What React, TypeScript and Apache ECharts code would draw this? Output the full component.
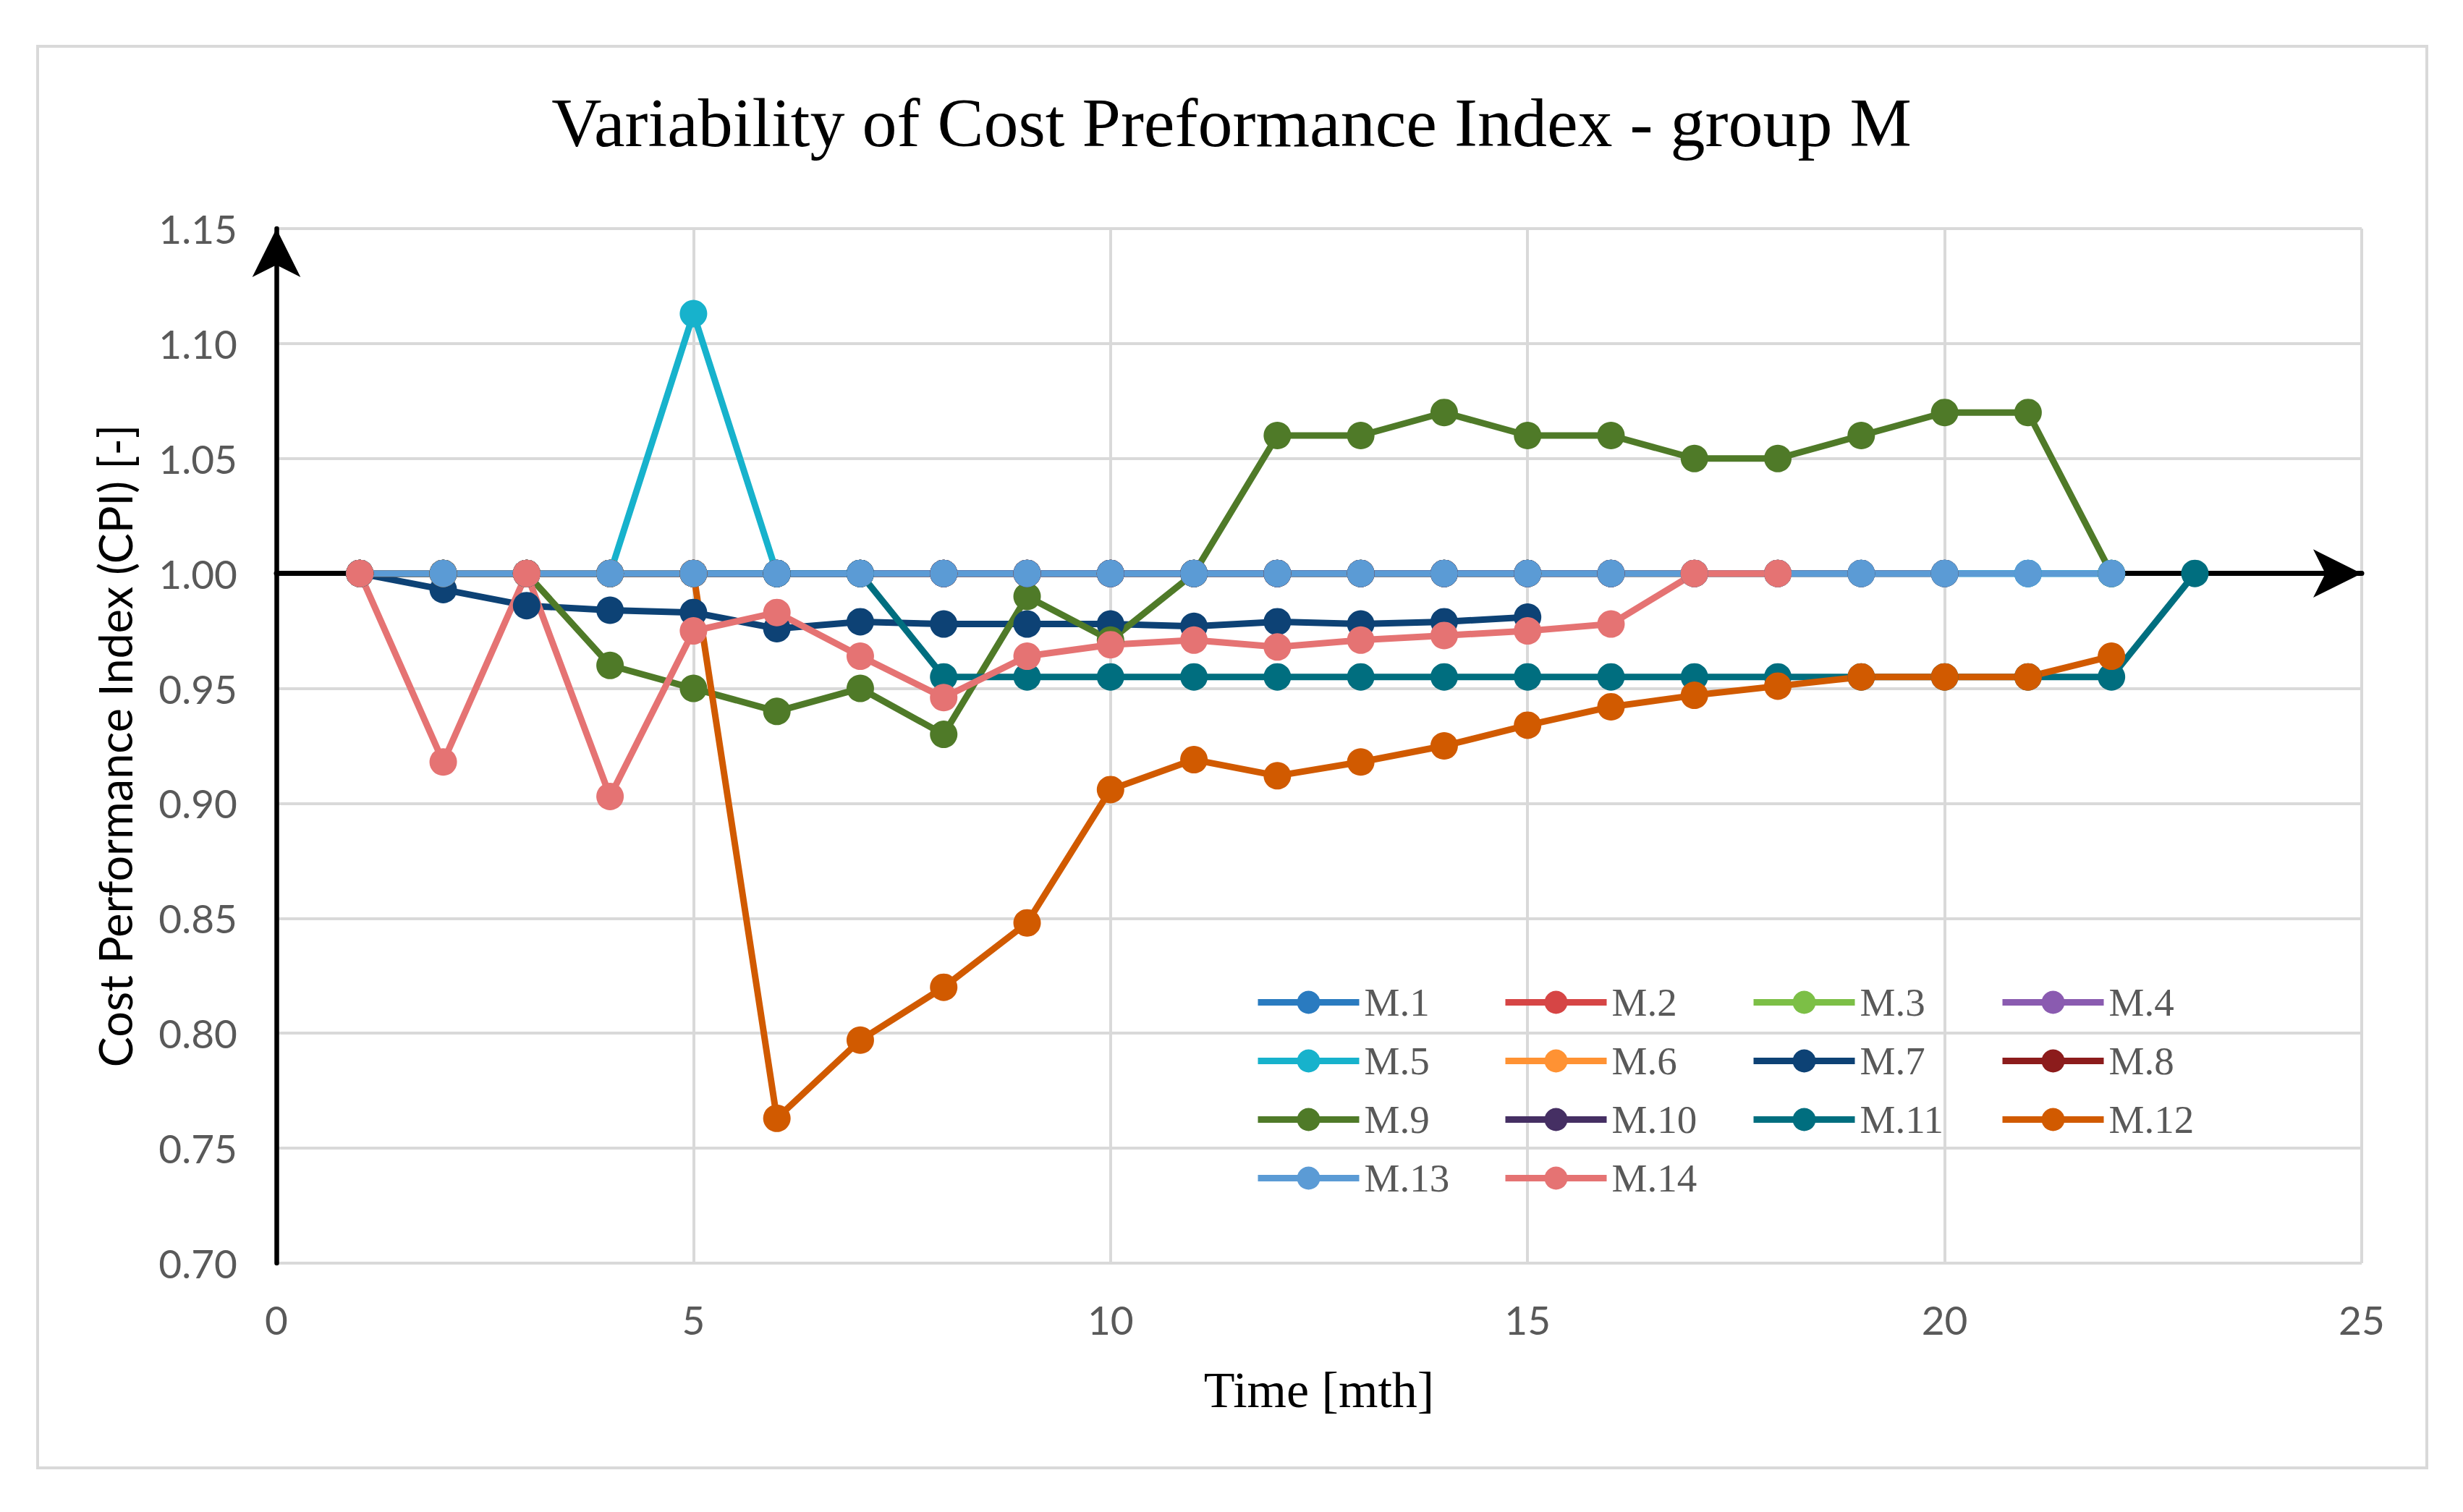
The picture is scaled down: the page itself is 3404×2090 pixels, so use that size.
import React, { useEffect, useRef } from "react";
import * as echarts from "echarts";

// ---- data ----
const months = [1, 2, 3, 4, 5, 6, 7, 8, 9, 10, 11, 12, 13, 14, 15, 16, 17, 18, 19, 20, 21, 22, 23];

const seriesNames = ["M.1", "M.2", "M.3", "M.4", "M.5", "M.6", "M.7", "M.8", "M.9", "M.10", "M.11", "M.12", "M.13", "M.14"];

const seriesColors = [
  "#2A7BC0", "#D64545", "#7CBF46", "#8A5BB0", "#17B2CC", "#FF9233", "#0D4275",
  "#8C1C1C", "#4F7A28", "#452F63", "#006E7F", "#D15A00", "#5B9BD5", "#E57373",
];

const m1 = [1.0, 1.0, 1.0, 1.0, 1.0, 1.0, 1.0, 1.0, 1.0, 1.0, 1.0, 1.0, 1.0, 1.0, 1.0, 1.0, 1.0, 1.0, 1.0, 1.0, 1.0, 1.0];
const m2 = [1.0, 1.0, 1.0, 1.0, 1.0, 1.0, 1.0, 1.0, 1.0, 1.0];
const m3 = [1.0, 1.0, 1.0, 1.0, 1.0, 1.0, 1.0, 1.0, 1.0, 1.0, 1.0, 1.0, 1.0, 1.0, 1.0];
const m4 = [1.0, 1.0, 1.0, 1.0, 1.0, 1.0, 1.0, 1.0, 1.0, 1.0, 1.0, 1.0];
const m5 = [1.0, 1.0, 1.0, 1.0, 1.113, 1.0, 1.0, 1.0, 1.0, 1.0, 1.0, 1.0, 1.0, 1.0, 1.0, 1.0, 1.0, 1.0, 1.0, 1.0, 1.0, 1.0];
const m6 = [1.0, 1.0, 1.0, 1.0, 1.0, 1.0, 1.0, 1.0, 1.0, 1.0, 1.0, 1.0, 1.0, 1.0, 1.0, 1.0, 1.0, 1.0];
const m7 = [1.0, 0.993, 0.986, 0.984, 0.983, 0.976, 0.979, 0.978, 0.978, 0.978, 0.977, 0.979, 0.978, 0.979, 0.981];
const m8 = [1.0, 1.0, 1.0, 1.0, 1.0, 1.0, 1.0, 1.0, 1.0, 1.0, 1.0, 1.0, 1.0, 1.0, 1.0, 1.0, 1.0, 1.0, 1.0, 1.0];
const m9 = [1.0, 1.0, 1.0, 0.96, 0.95, 0.94, 0.95, 0.93, 0.99, 0.971, 1.0, 1.06, 1.06, 1.07, 1.06, 1.06, 1.05, 1.05, 1.06, 1.07, 1.07, 1.0];
const m10 = [1.0, 1.0, 1.0, 1.0, 1.0, 1.0, 1.0, 1.0, 1.0, 1.0, 1.0, 1.0, 1.0, 1.0, 1.0, 1.0];
const m11 = [1.0, 1.0, 1.0, 1.0, 1.0, 1.0, 1.0, 0.955, 0.955, 0.955, 0.955, 0.955, 0.955, 0.955, 0.955, 0.955, 0.955, 0.955, 0.955, 0.955, 0.955, 0.955, 1.0];
const m12 = [1.0, 1.0, 1.0, 1.0, 1.0, 0.763, 0.797, 0.82, 0.848, 0.906, 0.919, 0.912, 0.918, 0.925, 0.934, 0.942, 0.947, 0.951, 0.955, 0.955, 0.955, 0.964];
const m13 = [1.0, 1.0, 1.0, 1.0, 1.0, 1.0, 1.0, 1.0, 1.0, 1.0, 1.0, 1.0, 1.0, 1.0, 1.0, 1.0, 1.0, 1.0, 1.0, 1.0, 1.0, 1.0];
const m14 = [1.0, 0.918, 1.0, 0.903, 0.975, 0.983, 0.964, 0.946, 0.964, 0.969, 0.971, 0.968, 0.971, 0.973, 0.975, 0.978, 1.0, 1.0];

const seriesValues = [m1, m2, m3, m4, m5, m6, m7, m8, m9, m10, m11, m12, m13, m14];

const legendColumns = [
  ["M.1", "M.5", "M.9", "M.13"],
  ["M.2", "M.6", "M.10", "M.14"],
  ["M.3", "M.7", "M.11"],
  ["M.4", "M.8", "M.12"],
];

const titleText = "Variability of Cost Preformance Index - group M";
const xAxisName = "Time [mth]";
const yAxisName = "Cost Performance Index (CPI) [-]";
const referenceValue = 1.0;

// ---- layout / style ----
const W = 3404;
const H = 2090;
const GRID = { left: 382, right: 140, top: 316, bottom: 344 };
const GRID_COLOR = "#D9D9D9";
const LABEL_COLOR = "#595959";
const legendLefts = [1734, 2076, 2419, 2763];

export default function App() {
  const ref = useRef<HTMLDivElement>(null);

  useEffect(() => {
    if (!ref.current) return;
    const chart = echarts.init(ref.current, null, { renderer: "svg" });

    const series: any[] = seriesNames.map((name, i) => ({
      name,
      type: "line",
      xAxisIndex: 0,
      yAxisIndex: 0,
      data: seriesValues[i].map((v, j) => [months[j], v]),
      symbol: "circle",
      symbolSize: 38,
      showAllSymbol: true,
      lineStyle: { width: 9, color: seriesColors[i] },
      itemStyle: { color: seriesColors[i] },
      emphasis: { disabled: true },
      silent: true,
      z: 3,
    }));

    const legends = legendColumns.map((col, ci) => ({
      orient: "vertical",
      left: legendLefts[ci],
      top: 1358,
      padding: 0,
      itemWidth: 140,
      itemHeight: 40,
      itemGap: 26,
      selectedMode: false,
      data: col,
      lineStyle: { width: "inherit" },
      textStyle: {
        fontFamily: "Liberation Serif",
        fontSize: 55,
        color: LABEL_COLOR,
        padding: [0, 0, 0, 2],
      },
    }));

    const option: any = {
      animation: false,
      backgroundColor: "#ffffff",
      color: seriesColors,
      title: {
        text: titleText,
        left: "center",
        top: 116,
        textStyle: {
          fontFamily: "Liberation Serif",
          fontSize: 96,
          fontWeight: "normal",
          color: "#000000",
        },
      },
      legend: legends,
      grid: { ...GRID, containLabel: false },
      xAxis: [
        {
          type: "value",
          min: 0,
          max: 25,
          interval: 5,
          name: xAxisName,
          nameLocation: "middle",
          nameGap: 140,
          nameTextStyle: { fontFamily: "Liberation Serif", fontSize: 70, color: "#000000" },
          axisLine: { show: false, onZero: false },
          axisTick: { show: false },
          axisLabel: { fontFamily: "Lato", fontSize: 55, color: LABEL_COLOR, margin: 50 },
          splitLine: { show: true, lineStyle: { color: GRID_COLOR, width: 4 } },
        },
        {
          type: "value",
          min: 0,
          max: 25,
          interval: 5,
          position: "bottom",
          axisLine: {
            show: true,
            onZero: true,
            onZeroAxisIndex: 1,
            symbol: ["none", "arrow"],
            symbolSize: [50, 67],
            lineStyle: { color: "#000000", width: 7 },
          },
          axisTick: { show: false },
          axisLabel: { show: false },
          splitLine: { show: false },
        },
      ],
      yAxis: [
        {
          type: "value",
          min: 0.7,
          max: 1.15,
          interval: 0.05,
          name: yAxisName,
          nameLocation: "middle",
          nameGap: 192,
          nameTextStyle: { fontFamily: "Lato", fontSize: 63, color: "#000000" },
          axisLine: {
            show: true,
            onZero: false,
            symbol: ["none", "arrow"],
            symbolSize: [50, 67],
            lineStyle: { color: "#000000", width: 6.5 },
          },
          axisTick: { show: false },
          axisLabel: {
            fontFamily: "Lato",
            fontSize: 55,
            color: LABEL_COLOR,
            margin: 54,
            formatter: (v: number) => v.toFixed(2),
          },
          splitLine: { show: true, lineStyle: { color: GRID_COLOR, width: 4 } },
        },
        {
          type: "value",
          min: 0.7 - referenceValue,
          max: 1.15 - referenceValue,
          show: false,
          axisLine: { show: false },
          splitLine: { show: false },
          axisLabel: { show: false },
        },
      ],
      graphic: [
        {
          type: "rect",
          shape: { x: 52, y: 64, width: 3302, height: 1965 },
          style: { fill: "none", stroke: GRID_COLOR, lineWidth: 4 },
          silent: true,
          z: -1,
        },
      ],
      series,
    };

    chart.setOption(option);
    return () => chart.dispose();
  }, []);

  return (
    <div
      ref={ref}
      style={{ position: "absolute", left: 0, top: 0, width: W, height: H, background: "#fff" }}
    />
  );
}
